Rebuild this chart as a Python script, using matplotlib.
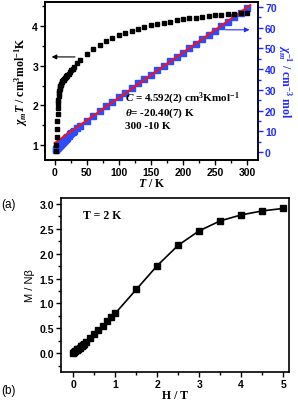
import numpy as np
import matplotlib
matplotlib.use("Agg")
import matplotlib.pyplot as plt
from matplotlib.ticker import MultipleLocator

# ------------------------------------------------------------------------------
# DATOS
# ------------------------------------------------------------------------------
# (a) chi_m T y chi_m^-1 frente a T
T = [2, 2.5, 3, 3.5, 4, 4.5, 5, 5.5, 6, 6.5, 7, 7.5, 8, 8.5, 9, 9.5, 10,
     11, 12, 13, 14, 15, 16, 17, 18, 19, 20, 22, 24, 26, 28, 30, 35, 40,
     50, 60, 70, 80, 90, 100, 110, 120, 130, 140, 150, 160, 170, 180, 190,
     200, 210, 220, 230, 240, 250, 260, 270, 280, 290, 300]
chiT = [0.85, 1.0, 1.2, 1.4, 1.6, 1.78, 1.93, 2.05, 2.15, 2.24, 2.31, 2.37,
        2.42, 2.46, 2.49, 2.52, 2.54, 2.58, 2.61, 2.63, 2.65, 2.67, 2.69,
        2.71, 2.73, 2.75, 2.77, 2.80, 2.84, 2.88, 2.92, 2.96, 3.06, 3.14,
        3.29, 3.41, 3.52, 3.61, 3.69, 3.76, 3.83, 3.88, 3.93, 3.97, 4.01,
        4.05, 4.08, 4.11, 4.14, 4.17, 4.19, 4.21, 4.23, 4.25, 4.27, 4.28,
        4.30, 4.31, 4.32, 4.32]
chi_inv = [1.2, 1.5, 1.8, 2.0, 2.2, 2.4, 2.5, 2.7, 2.8, 2.9, 3.0, 3.2,
           3.3, 3.5, 3.6, 3.8, 3.9, 4.3, 4.6, 4.9, 5.3, 5.6, 5.9, 6.3,
           6.6, 6.9, 7.2, 7.9, 8.5, 9.0, 9.6, 10.1, 11.4, 12.7,
           15.2, 17.6, 19.9, 22.2, 24.4, 26.6, 28.7, 30.9, 33.1, 35.3, 37.4,
           39.5, 41.7, 43.8, 45.9, 48.0, 50.1, 52.3, 54.4, 56.5, 58.6, 60.7,
           62.8, 65.0, 67.1, 69.4]
fit_T = [0, 305]
fit_inv = [4.4, 70.9]

# (b) magnetización a 2 K
H = [0.0, 0.02, 0.05, 0.08, 0.1, 0.12, 0.15, 0.18, 0.2, 0.22, 0.25, 0.3,
     0.4, 0.5, 0.6, 0.7, 0.8, 0.9, 1.0, 1.5, 2.0, 2.5, 3.0, 3.5, 4.0,
     4.5, 5.0]
M = [0.0, 0.02, 0.04, 0.06, 0.08, 0.09, 0.11, 0.14, 0.15, 0.17, 0.19, 0.23,
     0.31, 0.39, 0.47, 0.55, 0.64, 0.72, 0.80, 1.28, 1.76, 2.17, 2.46,
     2.66, 2.78, 2.86, 2.91]

# ------------------------------------------------------------------------------
# ESTILO
# ------------------------------------------------------------------------------
plt.rcParams['font.family'] = ['Liberation Sans', 'DejaVu Sans']
plt.rcParams['font.weight'] = 'bold'
plt.rcParams['mathtext.fontset'] = 'custom'
plt.rcParams['mathtext.rm'] = 'Liberation Serif:bold'
plt.rcParams['mathtext.it'] = 'Liberation Serif:italic:bold'
plt.rcParams['mathtext.bf'] = 'Liberation Serif:bold'

blue = '#1f2cff'
serif = ['Liberation Serif', 'DejaVu Serif']

fig = plt.figure(figsize=(2.98, 4.02), dpi=100)

# ------------------------------------------------------------------------------
# PANEL (a)
# ------------------------------------------------------------------------------
ax1 = fig.add_axes([0.151, 0.5995, 0.715, 0.393])
ax2 = ax1.twinx()

ax2.plot(T, chi_inv, 's', color='#2b4cff', ms=3.8, mec='#2b4cff', zorder=2)
ax2.plot(fit_T, fit_inv, '-', color='#ff1010', lw=1.4, zorder=3)
ax1.plot(T, chiT, 's', color='k', ms=3.2, zorder=3)

ax1.set_xlim(-15, 317)
ax1.set_ylim(0.63, 4.6)
ax2.set_ylim(-3.8, 72.4)
ax1.set_zorder(ax2.get_zorder() + 1)
ax1.patch.set_visible(False)

ax1.xaxis.set_major_locator(MultipleLocator(50))
ax1.xaxis.set_minor_locator(MultipleLocator(25))
ax1.yaxis.set_major_locator(MultipleLocator(1))
ax1.yaxis.set_minor_locator(MultipleLocator(0.5))
ax2.yaxis.set_major_locator(MultipleLocator(10))
ax2.yaxis.set_minor_locator(MultipleLocator(5))

for ax in (ax1, ax2):
    ax.tick_params(which='major', length=3.5, width=1, labelsize=7.5, pad=1.5)
    ax.tick_params(which='minor', length=2, width=1)
    for s in ax.spines.values():
        s.set_linewidth(1.2)
ax2.spines['right'].set_color(blue)
ax2.tick_params(axis='y', which='both', colors=blue)

ax1.set_xlabel(r'$T$ / K', fontfamily=serif, fontweight='bold',
               fontsize=8.5, labelpad=0)
ax1.set_ylabel(r'$\chi_m T$ / cm$^3$mol$^{-1}$K', fontfamily=serif,
               fontweight='bold', fontsize=8.5, labelpad=2)
ax2.set_ylabel(r'$\chi_m^{-1}$ / cm$^{-3}$ mol', fontfamily=serif,
               fontweight='bold', fontsize=8.5, color=blue, rotation=270,
               labelpad=12)

ax1.annotate('', xy=(-9, 3.22), xytext=(36, 3.22),
             arrowprops=dict(arrowstyle='-|>', color='k', lw=0.8,
                             mutation_scale=7))
ax2.annotate('', xy=(308, 59), xytext=(262, 59),
             arrowprops=dict(arrowstyle='-|>', color=blue, lw=0.8,
                             mutation_scale=7))

ax1.text(109, 2.19, r'$C$ = 4.592(2) cm$^3$Kmol$^{-1}$', fontfamily=serif,
         fontweight='bold', fontsize=8, va='center')
ax1.text(109, 1.84, r'$\theta$= -20.40(7) K', fontfamily=serif,
         fontweight='bold', fontsize=8, va='center')
ax1.text(109, 1.49, '300 -10 K', fontfamily=serif, fontweight='bold',
         fontsize=8, va='center')

fig.text(0.005, 0.483, '(a)', fontsize=8.5, fontweight='normal')

# ------------------------------------------------------------------------------
# PANEL (b)
# ------------------------------------------------------------------------------
ax3 = fig.add_axes([0.205, 0.072, 0.765, 0.433])
ax3.plot(H, M, 's-', color='k', ms=4.5, lw=1.2)

ax3.set_xlim(-0.29, 5.14)
ax3.set_ylim(-0.38, 3.12)
ax3.xaxis.set_major_locator(MultipleLocator(1))
ax3.xaxis.set_minor_locator(MultipleLocator(0.5))
ax3.yaxis.set_major_locator(MultipleLocator(0.5))
ax3.yaxis.set_minor_locator(MultipleLocator(0.25))
ax3.tick_params(which='major', length=3.5, width=1, labelsize=7.5, pad=1.5)
ax3.tick_params(which='minor', length=2, width=1)
for s in ax3.spines.values():
    s.set_linewidth(1.2)

ax3.set_xlabel('H / T', fontfamily=serif, fontweight='bold', fontsize=8.5,
               labelpad=0)
ax3.set_ylabel('M / Nβ', fontsize=8, fontweight='normal', labelpad=3)
ax3.text(0.24, 2.77, 'T = 2 K', fontfamily=serif, fontweight='bold',
         fontsize=8.5, va='center')

fig.text(0.005, 0.02, '(b)', fontsize=8.5, fontweight='normal')

plt.savefig('out.png', dpi=100)
